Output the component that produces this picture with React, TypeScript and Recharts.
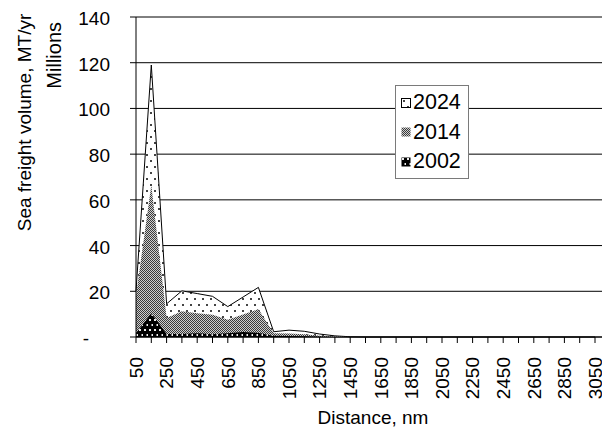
import React from 'react';
import { AreaChart, Area, XAxis, YAxis, CartesianGrid, Legend, Label } from 'recharts';

// Sailing distance bands (nautical miles)
const distances = [
  50, 150, 250, 350, 450, 550, 650, 750, 850, 950, 1050, 1150, 1250, 1350, 1450, 1550,
  1650, 1750, 1850, 1950, 2050, 2150, 2250, 2350, 2450, 2550, 2650, 2750, 2850, 2950, 3050,
];

// Sea freight volume per distance band, millions of tonnes per year
const volume2024 = [
  20, 119, 14.5, 20.2, 19, 17.8, 13.3, 17.5, 21.7, 2.3, 3.0, 2.5, 1.3, 0.5, 0.1, 0,
  0, 0, 0, 0, 0, 0, 0, 0, 0, 0, 0, 0, 0, 0, 0,
];
const volume2014 = [
  18, 66.5, 8.3, 11.3, 10.4, 9.7, 7.6, 9.8, 12.2, 1.6, 1.5, 1.2, 0.6, 0.2, 0, 0,
  0, 0, 0, 0, 0, 0, 0, 0, 0, 0, 0, 0, 0, 0, 0,
];
const volume2002 = [
  1.5, 10.4, 1.3, 1.3, 1.6, 1.2, 1.6, 2.2, 1.8, 0.5, 0.4, 0.3, 0.1, 0, 0, 0,
  0, 0, 0, 0, 0, 0, 0, 0, 0, 0, 0, 0, 0, 0, 0,
];

const yTicks = [0, 20, 40, 60, 80, 100, 120, 140];
const labelledDistances = [
  50, 250, 450, 650, 850, 1050, 1250, 1450, 1650, 1850, 2050, 2250, 2450, 2650, 2850, 3050,
];

const seriesNames = ['2024', '2014', '2002'];

const data = distances.map((d, i) => ({
  distance: d,
  y2024: volume2024[i],
  y2014: volume2014[i],
  y2002: volume2002[i],
}));

const FONT = '"Liberation Sans", Arial, Helvetica, sans-serif';

function XTick(props: any) {
  const { x, y, payload } = props;
  if (!labelledDistances.includes(payload.value)) return <g />;
  return (
    <text
      x={x}
      y={y}
      transform={`rotate(-90, ${x}, ${y})`}
      textAnchor="end"
      dy="0.36em"
      fontSize={19}
      fontFamily={FONT}
      fill="#000"
    >
      {payload.value}
    </text>
  );
}

function YTick(props: any) {
  const { x, y, payload } = props;
  const zero = payload.value === 0;
  return (
    <text
      x={zero ? x - 21 : x}
      y={y}
      dy="0.42em"
      textAnchor="end"
      fontSize={19}
      fontFamily={FONT}
      fill="#000"
    >
      {zero ? '-' : payload.value}
    </text>
  );
}

const legendRows = [
  { name: seriesNames[0], fill: 'url(#fill2024)', stroke: '#000' },
  { name: seriesNames[1], fill: 'url(#fill2014)', stroke: 'none' },
  { name: seriesNames[2], fill: 'url(#fill2002)', stroke: 'none' },
];

function LegendBox() {
  return (
    <div
      style={{
        width: 72,
        height: 90,
        border: '1px solid #7a7a7a',
        background: '#fff',
        paddingTop: 2,
        boxSizing: 'content-box',
        fontFamily: FONT,
        fontSize: 21.5,
        color: '#000',
      }}
    >
      {legendRows.map((r) => (
        <div key={r.name} style={{ height: 29.5, display: 'flex', alignItems: 'center' }}>
          <svg width={10} height={10} style={{ marginLeft: 5, marginRight: 2, display: 'block' }}>
            <rect x={0.5} y={0.5} width={9} height={9} fill={r.fill} stroke={r.stroke} strokeWidth={1} />
          </svg>
          <span style={{ lineHeight: 1 }}>{r.name}</span>
        </div>
      ))}
    </div>
  );
}

export default function App() {
  return (
    <div style={{ width: 602, height: 426, overflow: 'hidden', position: 'relative' }}>
      <AreaChart
        width={612}
        height={426}
        data={data}
        margin={{ top: 9, right: 0, bottom: 0, left: 0 }}
      >
        <defs>
          <pattern id="fill2024" width="8" height="12" patternUnits="userSpaceOnUse">
            <rect width="8" height="12" fill="#fff" />
            <rect x="2" y="2" width="2" height="2" fill="#444" />
            <rect x="6" y="8" width="2" height="2" fill="#444" />
          </pattern>
          <pattern id="fill2014" width="2" height="2" patternUnits="userSpaceOnUse">
            <rect width="2" height="2" fill="#cfcfcf" />
            <rect x="0" y="0" width="1" height="1" fill="#3a3a3a" />
            <rect x="1" y="1" width="1" height="1" fill="#3a3a3a" />
          </pattern>
          <pattern id="fill2002" width="5" height="10" patternUnits="userSpaceOnUse">
            <rect width="5" height="10" fill="#000" />
            <rect x="1" y="1" width="2" height="2" fill="#eee" />
            <rect x="3.5" y="6" width="2" height="2" fill="#eee" />
          </pattern>
        </defs>
        <CartesianGrid vertical={false} stroke="#000" strokeWidth={1} />
        <XAxis
          dataKey="distance"
          interval={0}
          tickSize={6}
          tickMargin={14}
          height={97}
          padding={{ left: 0, right: 25 }}
          axisLine={{ stroke: '#000' }}
          tickLine={{ stroke: '#000' }}
          tick={<XTick />}
        >
          <Label
            content={(p: any) => {
              const vb = p.viewBox;
              return (
                <text
                  x={vb.x + vb.width / 2 - 5}
                  y={vb.y + vb.height - 10}
                  textAnchor="middle"
                  fontSize={19}
                  fontFamily={FONT}
                  fill="#000"
                >
                  Distance, nm
                </text>
              );
            }}
          />
        </XAxis>
        <YAxis
          width={128}
          domain={[0, 140]}
          ticks={yTicks}
          interval={0}
          tickSize={6}
          tickMargin={20}
          axisLine={{ stroke: '#000' }}
          tickLine={{ stroke: '#000' }}
          tick={<YTick />}
        >
          <Label
            content={(p: any) => {
              const vb = p.viewBox;
              const cx = vb.x + 23;
              const cy = vb.y + 105.5;
              return (
                <text
                  x={cx}
                  y={cy}
                  transform={`rotate(-90, ${cx}, ${cy})`}
                  textAnchor="middle"
                  fontSize={19}
                  fontFamily={FONT}
                  fill="#000"
                >
                  Sea freight volume, MT/yr
                </text>
              );
            }}
          />
          <Label
            content={(p: any) => {
              const vb = p.viewBox;
              const cx = vb.x + 53.5;
              const cy = vb.y + 38.3;
              return (
                <text
                  x={cx}
                  y={cy}
                  transform={`rotate(-90, ${cx}, ${cy})`}
                  textAnchor="middle"
                  fontSize={20}
                  fontFamily={FONT}
                  fill="#000"
                >
                  Millions
                </text>
              );
            }}
          />
        </YAxis>
        <Area
          type="linear"
          dataKey="y2024"
          name={seriesNames[0]}
          fill="url(#fill2024)"
          fillOpacity={1}
          stroke="#000"
          strokeWidth={1}
          dot={false}
          activeDot={false}
          isAnimationActive={false}
        />
        <Area
          type="linear"
          dataKey="y2014"
          name={seriesNames[1]}
          fill="url(#fill2014)"
          fillOpacity={1}
          stroke="none"
          dot={false}
          activeDot={false}
          isAnimationActive={false}
        />
        <Area
          type="linear"
          dataKey="y2002"
          name={seriesNames[2]}
          fill="url(#fill2002)"
          fillOpacity={1}
          stroke="none"
          dot={false}
          activeDot={false}
          isAnimationActive={false}
        />
        <Legend
          layout="vertical"
          align="center"
          verticalAlign="middle"
          wrapperStyle={{ left: 387, top: 77, width: 74 }}
          content={() => <LegendBox />}
        />
      </AreaChart>
    </div>
  );
}
